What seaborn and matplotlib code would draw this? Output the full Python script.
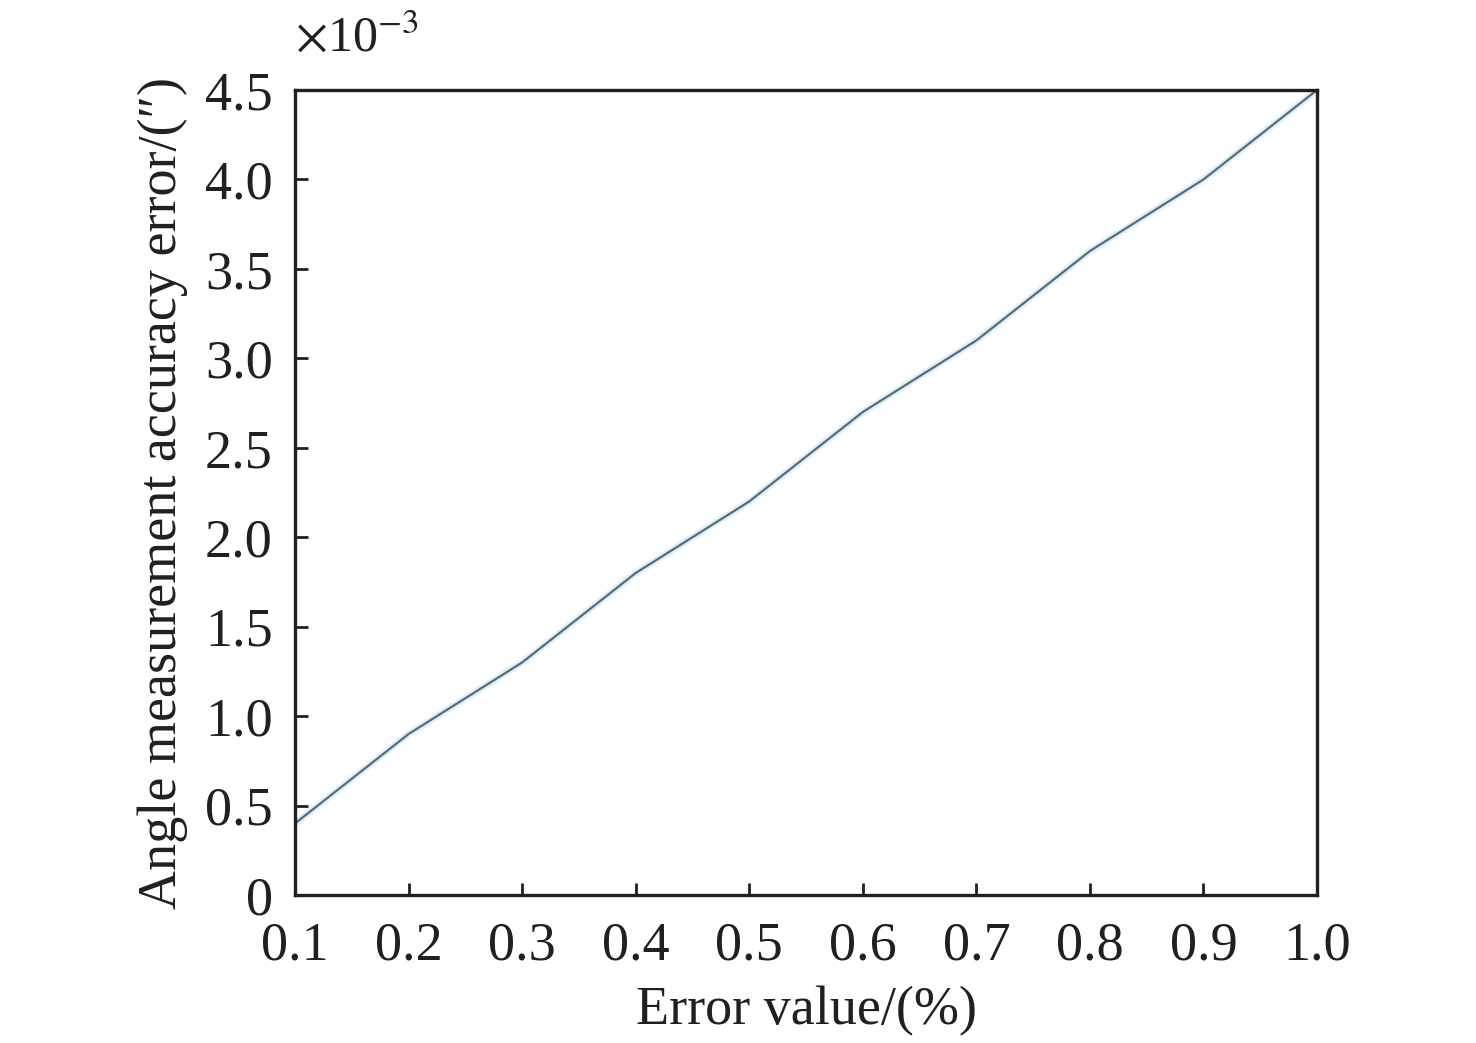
import pandas as pd
import matplotlib
matplotlib.use("Agg")
import matplotlib.pyplot as plt
import seaborn as sns

# ── Data (angle error in units of 1e-3 arcsec) ────────────────────────────────
error_value = [0.1, 0.2, 0.3, 0.4, 0.5, 0.6, 0.7, 0.8, 0.9, 1.0]
angle_error = [0.4, 0.9, 1.3, 1.8, 2.2, 2.7, 3.1, 3.6, 4.0, 4.5]
x_ticks = [0.1, 0.2, 0.3, 0.4, 0.5, 0.6, 0.7, 0.8, 0.9, 1.0]
y_ticks = [0, 0.5, 1.0, 1.5, 2.0, 2.5, 3.0, 3.5, 4.0, 4.5]
y_tick_labels = ["0", "0.5", "1.0", "1.5", "2.0", "2.5", "3.0", "3.5", "4.0", "4.5"]

df = pd.DataFrame({"Error value": error_value, "Angle error": angle_error})

sns.set_theme(style="ticks")
plt.rcParams["font.family"] = ["Liberation Serif", "DejaVu Serif"]
plt.rcParams["mathtext.fontset"] = "stix"

FS = 39
INK = "#231f20"

fig = plt.figure(figsize=(14.76, 10.43), dpi=100)
ax = fig.add_axes([0.1999, 0.1419, 0.6924, 0.7718])

# soft halo under the line, then the line itself
sns.lineplot(data=df, x="Error value", y="Angle error", ax=ax,
             color="#cfe6f0", linewidth=5, alpha=0.6)
sns.lineplot(data=df, x="Error value", y="Angle error", ax=ax,
             color="#4f6f80", linewidth=1.6)

ax.set_xlim(0.1, 1.0)
ax.set_ylim(0, 4.5)
ax.set_xticks(x_ticks)
ax.set_xticklabels([f"{v:.1f}" for v in x_ticks])
ax.set_yticks(y_ticks)
ax.set_yticklabels(y_tick_labels)

ax.tick_params(direction="in", length=9, width=2, labelsize=FS, colors=INK)
ax.tick_params(axis="x", pad=19)
ax.tick_params(axis="y", pad=16)
for sp in ax.spines.values():
    sp.set_visible(True)
    sp.set_linewidth(2.4)
    sp.set_color(INK)

ax.set_xlabel("Error value/(%)", fontsize=FS, color=INK, labelpad=10)
ax.set_ylabel("Angle measurement accuracy error/(″)", fontsize=FS,
              color=INK, labelpad=12)
ax.text(0.0, 1.035, r"$\times$10$^{-3}$", transform=ax.transAxes,
        fontsize=36, color=INK, ha="left", va="bottom")

fig.savefig("out.png", dpi=100)
